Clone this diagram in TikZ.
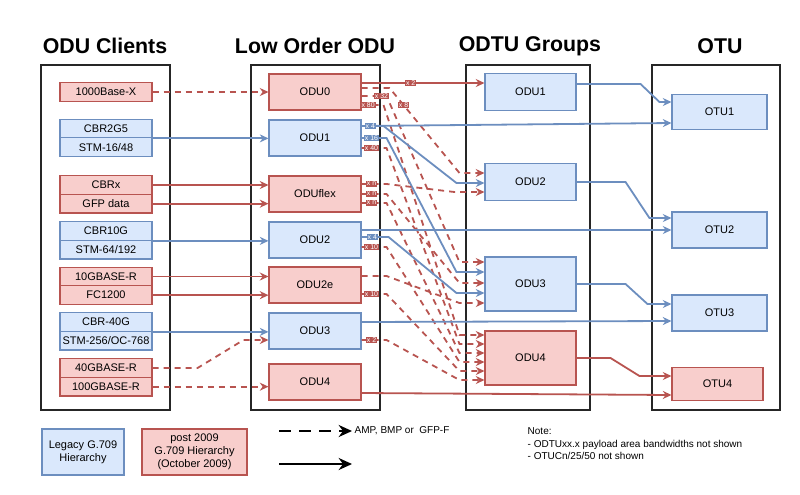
\documentclass[tikz,border=0pt]{standalone}
\usepackage{fontspec}
\setmainfont{Liberation Sans}
\usepackage{tikz}
\usetikzlibrary{arrows.meta, positioning, calc}

\definecolor{bluefill}{HTML}{DAE8FC}
\definecolor{blueedge}{HTML}{6C8EBF}
\definecolor{redfill}{HTML}{F8CECC}
\definecolor{rededge}{HTML}{B85450}

\begin{document}
\begin{tikzpicture}[
  x=0.75pt, y=-0.75pt,
  node distance=14pt,
  font=\fontsize{8.25}{9.75}\selectfont,
  title/.style={font=\fontsize{16}{19}\selectfont\bfseries},
  column/.style={rectangle, draw=black!85, line width=0.8pt, minimum height=258.75pt},
  bluecell/.style={rectangle, draw=blueedge, fill=bluefill, line width=0.8pt, minimum width=69pt, minimum height=14pt, inner sep=0pt, align=center},
  redcell/.style={bluecell, draw=rededge, fill=redfill},
  bluebox/.style={bluecell, minimum height=27pt},
  redbox/.style={redcell, minimum height=27pt},
  bluearrow/.style={-{Stealth[length=6.5pt, width=6pt]}, draw=blueedge, line width=1.35pt},
  redarrow/.style={-{Stealth[length=6.5pt, width=6pt]}, draw=rededge, line width=1.35pt},
  reddash/.style={redarrow, dash pattern=on 4.5pt off 3.75pt},
  lbl/.style={font=\fontsize{5.2}{5.2}\selectfont, inner sep=0.7pt, text=white, fill=rededge},
  bluelbl/.style={lbl, fill=blueedge},
  legendarrow/.style={-{Stealth[length=10pt, width=9pt]}, draw=black, line width=2.2pt},
  small/.style={font=\fontsize{7.5}{9.4}\selectfont}
]
\useasboundingbox (0,0) rectangle (800,494);

% Column headers and frames
\node[title] (hclients) at (105,46) {ODU Clients};
\node[title] (hlow) at (315,46) {Low Order ODU};
\node[title] (hodtu) at (530,46) {ODTU Groups};
\node[title] (hotu) at (720,46) {OTU};

\node[column, minimum width=96.75pt] (colclients) at (105.5,237.5) {};
\node[column, minimum width=96.75pt] (collow) at (315.5,237.5) {};
\node[column, minimum width=93pt] (colodtu) at (528,237.5) {};
\node[column, minimum width=96pt] (colotu) at (716,237.5) {};

% ODU clients
\node[redcell] (gbe) at (106,92) {1000Base-X};
\node[bluecell] (cbr2g5) at (106,128.5) {CBR2G5};
\node[bluecell, below of=cbr2g5] (stm16) {STM-16/48};
\node[redcell] (cbrx) at (106,185) {CBRx};
\node[redcell, below of=cbrx] (gfp) {GFP data};
\node[bluecell] (cbr10g) at (106,231) {CBR10G};
\node[bluecell, below of=cbr10g] (stm64) {STM-64/192};
\node[redcell] (ge10r) at (106,276.5) {10GBASE-R};
\node[redcell, below of=ge10r] (fc1200) {FC1200};
\node[bluecell] (cbr40g) at (106,322) {CBR-40G};
\node[bluecell, below of=cbr40g] (stm256) {STM-256/OC-768};
\node[redcell] (ge40) at (106,368) {40GBASE-R};
\node[redcell, below of=ge40] (ge100) {100GBASE-R};

% Low order ODU
\node[redbox] (lo0) at (315,92) {ODU0};
\node[bluebox] (lo1) at (315,138) {ODU1};
\node[redbox] (loflex) at (315,194) {ODUflex};
\node[bluebox] (lo2) at (315,240) {ODU2};
\node[redbox] (lo2e) at (315,285) {ODU2e};
\node[bluebox] (lo3) at (315,331) {ODU3};
\node[redbox] (lo4) at (315,382) {ODU4};

% ODTU groups
\node[bluecell, minimum width=68.25pt, minimum height=28pt] (t1) at (530.5,92) {ODU1};
\node[bluecell, minimum width=68.25pt, minimum height=28pt] (t2) at (530.5,182) {ODU2};
\node[bluecell, minimum width=68.25pt, minimum height=40.5pt] (t3) at (530.5,284) {ODU3};
\node[redcell, minimum width=68.25pt, minimum height=40.5pt] (t4) at (530.5,358) {ODU4};

% OTU
\node[bluecell, minimum width=71.25pt, minimum height=26.5pt] (o1) at (719.5,112) {OTU1};
\node[bluecell, minimum width=71.25pt, minimum height=27pt] (o2) at (719.5,230) {OTU2};
\node[bluecell, minimum width=71.25pt, minimum height=27pt] (o3) at (719.5,313) {OTU3};
\node[redcell, minimum width=68.25pt, minimum height=24.75pt] (o4) at (717.5,384) {OTU4};

% clients -> low order
\draw[reddash] (gbe) -- (lo0);
\draw[bluearrow] (cbr2g5.south east) -- (cbr2g5.south east -| lo1.west);
\draw[redarrow] (cbrx.east) -- (cbrx.east -| loflex.west);
\draw[redarrow] (gfp.east) -- (gfp.east -| loflex.west);
\draw[bluearrow] (cbr10g.south east) -- (cbr10g.south east -| lo2.west);
\draw[redarrow] (ge10r.east) -- (ge10r.east -| lo2e.west);
\draw[redarrow] (fc1200.east) -- (fc1200.east -| lo2e.west);
\draw[bluearrow] (cbr40g.south east) -- (cbr40g.south east -| lo3.west);
\draw[reddash] (ge40.east) -- ++(45,0) -- ($(lo3.west)+(-25,9)$) -- ($(lo3.west)+(0,9)$);
\draw[reddash] (ge100.east) -- (ge100.east -| lo4.west);

% ODU0
\draw[redarrow] ($(lo0.east)+(0,-9)$) -- node[lbl, pos=0.4] {x 2} ($(t1.west)+(0,-9)$);
\draw[reddash] ($(lo0.east)+(0,-4)$) -- ++(28,0) -- node[lbl, pos=0.2] {x 8} ($(t2.west)+(-25,-9)$) -- ($(t2.west)+(0,-9)$);
\draw[reddash] ($(lo0.east)+(0,4)$) -- node[lbl, pos=0.8] {x 32} ++(25,0) -- ($(t3.west)+(-25,-22)$) -- ($(t3.west)+(0,-22)$);
\draw[reddash] ($(lo0.east)+(0,13)$) -- node[lbl, pos=0.3] {x 80} ++(22,0) -- ($(t4.west)+(-25,-23)$) -- ($(t4.west)+(0,-23)$);

% ODU1
\draw[bluearrow] ($(lo1.east)+(0,-12)$) -- ($(o1.west)+(0,11)$);
\draw[bluearrow] ($(lo1.east)+(0,-12)$) -- node[bluelbl, pos=0.4] {x 4} ++(22,0) -- ($(t2.west)+(-28,1)$) -- ($(t2.west)+(0,1)$);
\draw[bluearrow] (lo1.east) -- node[bluelbl, pos=0.4] {x 16} ++(25,0) -- ($(t3.west)+(-28,-12)$) -- ($(t3.west)+(0,-12)$);
\draw[reddash] ($(lo1.east)+(0,10)$) -- node[lbl, pos=0.4] {x 40} ++(25,0) -- ($(t4.west)+(-25,-14)$) -- ($(t4.west)+(0,-14)$);

% ODUflex
\draw[reddash] ($(loflex.east)+(0,-10)$) -- node[lbl, pos=0.4] {x n} ++(25,0) -- ($(t2.west)+(-30,10)$) -- ($(t2.west)+(0,10)$);
\draw[reddash] (loflex.east) -- node[lbl, pos=0.4] {x n} ++(25,0) -- ($(t3.west)+(-25,-1)$) -- ($(t3.west)+(0,-1)$);
\draw[reddash] ($(loflex.east)+(0,9)$) -- node[lbl, pos=0.4] {x n} ++(25,0) -- ($(t4.west)+(-25,-5)$) -- ($(t4.west)+(0,-5)$);

% ODU2
\draw[bluearrow] ($(lo2.east)+(0,-10)$) -- (o2.west);
\draw[bluearrow] ($(lo2.east)+(0,-3)$) -- node[bluelbl, pos=0.4] {x 4} ++(27,0) -- ($(t3.west)+(-28,9)$) -- ($(t3.west)+(0,9)$);
\draw[reddash] ($(lo2.east)+(0,7)$) -- node[lbl, pos=0.4] {x 10} ++(25,0) -- ($(t4.west)+(-25,4)$) -- ($(t4.west)+(0,4)$);

% ODU2e
\draw[reddash] ($(lo2e.east)+(0,-9)$) -- ++(25,0) -- ($(t3.west)+(-25,19)$) -- ($(t3.west)+(0,19)$);
\draw[reddash] ($(lo2e.east)+(0,9)$) -- node[lbl, pos=0.4] {x 10} ++(25,0) -- ($(t4.west)+(-25,13)$) -- ($(t4.west)+(0,13)$);

% ODU3 and ODU4
\draw[bluearrow] ($(lo3.east)+(0,-9)$) -- ($(o3.west)+(0,8)$);
\draw[reddash] ($(lo3.east)+(0,9)$) -- node[lbl, pos=0.4] {x 2} ++(25,0) -- ($(t4.west)+(-25,22)$) -- ($(t4.west)+(0,22)$);
\draw[redarrow] ($(lo4.east)+(0,11)$) -- ($(o4.west)+(0,11)$);

% ODTU groups -> OTU
\draw[bluearrow] ($(t1.east)+(0,-8)$) -- ++(64,0) -- ($(o1.west)+(-12,-10)$) -- ($(o1.west)+(0,-10)$);
\draw[bluearrow] (t2.east) -- ++(49,0) -- ($(o2.west)+(-22,-12)$) -- ($(o2.west)+(0,-12)$);
\draw[bluearrow] (t3.east) -- ++(49,0) -- ($(o3.west)+(-24,-9)$) -- ($(o3.west)+(0,-9)$);
\draw[redarrow] (t4.east) -- ++(34,0) -- ($(o4.west)+(-32,-8)$) -- ($(o4.west)+(0,-8)$);

% Legend
\node[bluecell, minimum width=61.5pt, minimum height=34.5pt] (legacy) at (83,452) {Legacy G.709\\Hierarchy};
\node[redcell, minimum width=78.75pt, minimum height=34.5pt] (post) at (194.5,452) {post 2009\\G.709 Hierarchy\\(October 2009)};
\coordinate (dashstart) at (279,431);
\coordinate (dashend) at (352,431);
\coordinate (solidstart) at (279,464);
\coordinate (solidend) at (352,464);
\draw[legendarrow, dash pattern=on 9pt off 6pt] (dashstart) -- (dashend);
\draw[legendarrow] (solidstart) -- (solidend);
\node[small, anchor=west, inner sep=1pt] (amp) at (353,431) {AMP, BMP or\ \ GFP-F};

\node[small, anchor=north west, align=left] (note) at (523,423) {Note:\\- ODTUxx.x payload area bandwidths not shown\\- OTUCn/25/50 not shown};

\end{tikzpicture}
\end{document}
